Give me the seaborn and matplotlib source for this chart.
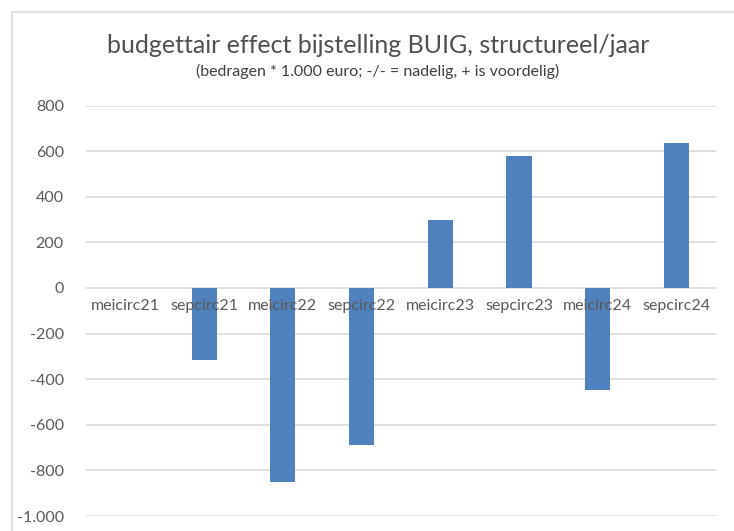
import matplotlib
matplotlib.use("Agg")
import matplotlib.pyplot as plt
import seaborn as sns
import pandas as pd
from matplotlib.patches import Rectangle
from matplotlib.ticker import FuncFormatter

categories = ["meicirc21", "sepcirc21", "meicirc22", "sepcirc22",
              "meicirc23", "sepcirc23", "meicirc24", "sepcirc24"]
values = [0, -315, -852, -688, 296, 579, -448, 638]
yticks = [-1000, -800, -600, -400, -200, 0, 200, 400, 600, 800]

title = "budgettair effect bijstelling BUIG, structureel/jaar"
subtitle = "(bedragen * 1.000 euro; -/- = nadelig, + is voordelig)"

sns.set_theme(style="white")
plt.rcParams['font.family'] = ['Lato', 'DejaVu Sans']

df = pd.DataFrame({"cat": categories, "val": values})

fig = plt.figure(figsize=(7.34, 5.31), dpi=100)
ax = fig.add_axes([0.1172, 0.0282, 0.858, 0.773])

sns.barplot(data=df, x="cat", y="val", color="#4f81bd", saturation=1,
            width=0.32, linewidth=0, ax=ax, zorder=3)

ax.set_ylim(-1000, 800)
ax.set_yticks(yticks)
ax.yaxis.set_major_formatter(FuncFormatter(lambda v, p: f"{int(v):,}".replace(",", ".")))
ax.set_xlim(-0.5, len(categories) - 0.5)
ax.grid(axis="y", color="#d9d9d9", linewidth=1.2, zorder=0)
ax.set_axisbelow(True)
ax.xaxis.set_zorder(5)
for s in ["top", "right", "left"]:
    ax.spines[s].set_visible(False)
ax.spines["bottom"].set_position(("data", 0))
ax.spines["bottom"].set_visible(False)
ax.set_xlabel("")
ax.set_ylabel("")
ax.tick_params(axis="y", length=0, pad=16, labelsize=11.5, labelcolor="#595959")
ax.tick_params(axis="x", length=0, pad=8, labelsize=11.5, labelcolor="#595959")

fig.text(0.515, 0.915, title, ha="center", va="center", fontsize=18, color="#505050")
fig.text(0.515, 0.865, subtitle, ha="center", va="center", fontsize=11.5, color="#404040")

fig.patches.append(Rectangle((12/734, -0.1), 1.0, (531-12)/531 + 0.1,
                             transform=fig.transFigure, fill=False,
                             edgecolor="#d9d9d9", linewidth=1.2))

fig.savefig("out.png", dpi=100)
